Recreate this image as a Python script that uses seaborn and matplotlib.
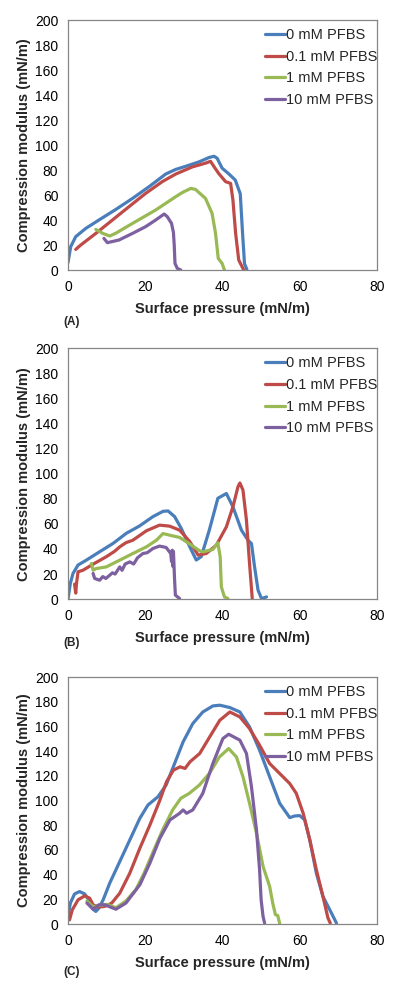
import numpy as np
import pandas as pd
import matplotlib
matplotlib.use("Agg")
import matplotlib.pyplot as plt
import seaborn as sns

# series names and colours (Excel 2007 defaults)
labels = ["0 mM PFBS", "0.1 mM PFBS", "1 mM PFBS", "10 mM PFBS"]
colors = ["#4A7EBB", "#BE4B48", "#98B954", "#7D60A0"]
panel_tags = ["(A)", "(B)", "(C)"]

# ---- panel A ----
A_blue_x = [0, 0.7, 2, 4.6, 8, 12.4, 16.7, 21, 25.3, 27.9, 30.5, 33.9, 36.5, 37.8, 38.6, 39.9, 41.6, 43.3, 44.6, 45.2, 45.7, 46.3]
A_blue_y = [6, 18.7, 26.7, 33.3, 40, 48.5, 57.3, 66.7, 76.8, 80.5, 83, 86.5, 90, 91, 89.5, 81.5, 77, 72, 61, 29, 5, 0.5]
A_red_x = [2, 3.3, 7.2, 11.5, 15.8, 20.1, 24.4, 27.9, 32.2, 35.6, 36.9, 37.8, 39, 40.8, 42.1, 42.7, 43.4, 44.2, 45.5]
A_red_y = [16.5, 20, 29.3, 40, 50.7, 61.3, 70.7, 76.8, 82.5, 85.5, 87, 82.7, 77.3, 70.7, 69.3, 56, 29.3, 8, 0]
A_green_x = [7.2, 9, 10.8, 12.4, 16.7, 22.7, 27.9, 29.6, 31.8, 33, 35.6, 37.3, 38.2, 38.9, 39.9, 40.5]
A_green_y = [32.5, 29.3, 27.2, 29.5, 37.3, 48, 58.7, 62, 65.3, 64.5, 57.3, 45.3, 29.3, 9.3, 5.3, 0]
A_purple_x = [9.3, 10.2, 13.2, 16.7, 20.1, 22.7, 24.9, 25.7, 26.8, 27.3, 27.5, 27.7, 28.3, 29.2]
A_purple_y = [25.3, 21.9, 24, 29.3, 34.7, 40, 44.8, 42.7, 37.3, 30, 20, 5.3, 1.3, 0]

# ---- panel B ----
B_blue_x = [0, 0.6, 1.3, 2.6, 4.8, 8.2, 11.7, 15.1, 18.5, 22, 24.6, 25.9, 27.6, 29.3, 31.5, 33.2, 34.5, 36.6, 38.8, 41, 42.7, 44.9, 46.6, 47.5, 48.3, 49.2, 50.1, 51.4]
B_blue_y = [0, 12.5, 20.5, 27.2, 31.2, 37.8, 44.5, 52.5, 58.3, 65.8, 70, 70.3, 65.8, 56.5, 41.9, 31.2, 33.9, 55.2, 80.4, 84.2, 73.6, 55, 47, 44.3, 25.8, 7.2, 0.5, 1.8]
B_red_x = [1.7, 2.0, 2.2, 2.6, 3.9, 6.5, 9.9, 12, 13.4, 15, 16.8, 20.3, 23.7, 26.3, 28.9, 31.5, 33.7, 35.8, 38.4, 41, 42.7, 44, 44.5, 45.3, 46.2, 47, 47.7]
B_red_y = [12, 4.8, 12.5, 21.8, 23.1, 27.9, 33.8, 38, 41.7, 45, 47, 54.5, 59, 58.2, 55, 46, 35.1, 36.4, 43, 57.6, 73.6, 89.5, 92.6, 86.9, 63, 28.4, 0.5]
B_green_x = [6.05, 6.5, 7.3, 9.9, 13.4, 16.8, 20.3, 22.9, 24.6, 26.3, 28.9, 31.5, 34.1, 34.9, 37.5, 38.8, 39.4, 39.7, 40.5, 41.4]
B_green_y = [28.4, 23.1, 24.4, 25.7, 31.1, 36.4, 41.7, 47, 52.3, 51, 49.2, 44, 38.5, 37.7, 39.6, 44.9, 33.7, 9.8, 1.8, 0.5]
B_purple_x = [6.5, 6.9, 8.2, 9.0, 9.8, 10.8, 11.5, 12.2, 13.4, 14.0, 14.8, 16, 17, 18, 19.4, 20.5, 22, 23.7, 25.4, 26.6, 26.8, 27.0, 27.2, 27.3, 27.6, 27.8, 28.9]
B_purple_y = [20.5, 16.5, 15.1, 18, 16.5, 19.1, 21, 20, 25.7, 23, 28, 29.7, 28, 33, 36.4, 37, 40.4, 42.3, 41.2, 36.4, 30, 39, 26, 38, 15.1, 3.2, 0.5]

# ---- panel C ----
C_blue_x = [0, 0.6, 1.7, 3, 4.3, 5.4, 6.5, 7.2, 8, 9.1, 10.8, 13.4, 16, 18.6, 20.7, 23.3, 25.4, 27.6, 29.8, 32.3, 34.9, 37.5, 39.3, 41.9, 44.5, 47, 49.6, 52.2, 54.8, 57.4, 58.7, 60, 61.3, 62.6, 64.3, 66, 68.2, 69.5]
C_blue_y = [6.1, 16.9, 24.4, 26.3, 24.4, 19.6, 12, 10.2, 12.9, 19.6, 33.1, 50.6, 68.1, 85.6, 96.4, 103.1, 112.5, 130, 147.5, 162.3, 171.7, 176.6, 177.2, 175.3, 171.7, 159.6, 140.8, 119.3, 97.8, 86.2, 87.5, 87.8, 84.3, 68.1, 41.2, 22.4, 8.9, 0.8]
C_red_x = [0.4, 1.1, 2.6, 4.3, 5.6, 6.5, 7.8, 9.5, 11.3, 13.4, 16, 18.6, 21.2, 23.8, 25.5, 27.3, 29, 30.3, 31.6, 34.1, 36.7, 39.3, 41.9, 44.5, 47, 49.6, 52.2, 54.8, 57.4, 59.1, 60.9, 62.6, 64.3, 66, 67.3, 67.9]
C_red_y = [3.4, 11.4, 19.6, 22.8, 21, 15.6, 13.7, 14.3, 16.9, 25, 41.2, 61.4, 80.2, 100.4, 115.2, 124.6, 127.3, 126, 131.4, 138.1, 151.6, 165, 171.7, 167.7, 158.3, 144.8, 130, 121.9, 113.8, 105.8, 89.6, 68.1, 43.9, 22.4, 4.9, 0.8]
C_green_x = [4.9, 6.5, 8, 10.2, 12.4, 15, 17.6, 19.7, 21.9, 24.5, 27.1, 29.2, 31.4, 34, 36.6, 39.2, 41.6, 43.6, 45.3, 47, 48.8, 50.5, 52.2, 53, 53.7, 54.3, 54.8]
C_green_y = [18.6, 14, 15.1, 15.9, 13.2, 18.6, 28, 41.2, 57.4, 76.2, 92.4, 101.8, 105.8, 112.5, 121.9, 135.3, 142.1, 135.3, 119.3, 97.8, 73.6, 46.6, 30.5, 17, 7.6, 6.9, 0.5]
C_purple_x = [4.9, 6.5, 8, 9.5, 12.4, 15, 18.6, 21.2, 23.8, 26.4, 28.9, 29.8, 30.7, 32.3, 34.9, 37.5, 40.1, 41.6, 44.5, 46.2, 47.5, 48.8, 49.6, 50, 50.5, 50.9]
C_purple_y = [17, 12, 15.6, 15.6, 12, 17, 31.8, 49.3, 69.5, 84.3, 89.7, 92.4, 89.7, 92.4, 105.8, 130, 150.2, 153.7, 148.9, 138.1, 111.2, 76.2, 43.9, 19.6, 6.1, 0.8]

panels = [
    [(A_blue_x, A_blue_y), (A_red_x, A_red_y), (A_green_x, A_green_y), (A_purple_x, A_purple_y)],
    [(B_blue_x, B_blue_y), (B_red_x, B_red_y), (B_green_x, B_green_y), (B_purple_x, B_purple_y)],
    [(C_blue_x, C_blue_y), (C_red_x, C_red_y), (C_green_x, C_green_y), (C_purple_x, C_purple_y)],
]

sns.set_style("white")
plt.rcParams["font.family"] = ["Liberation Sans", "DejaVu Sans"]

fig = plt.figure(figsize=(4.0, 9.92), dpi=100)
axes_pos = [
    [0.17, 0.7278, 0.7725, 0.252],
    [0.17, 0.396, 0.7725, 0.253],
    [0.17, 0.0685, 0.7725, 0.249],
]
tag_y = [1 - 322 / 992, 1 - 643 / 992, 1 - 972 / 992]
spine_col = "#868686"
palette = dict(zip(labels, colors))

for pos, series, tag, ty in zip(axes_pos, panels, panel_tags, tag_y):
    ax = fig.add_axes(pos)
    rows = []
    for lab, (xs, ys) in zip(labels, series):
        for xv, yv in zip(xs, ys):
            rows.append({"x": xv, "y": yv, "series": lab})
    df = pd.DataFrame(rows)
    sns.lineplot(data=df, x="x", y="y", hue="series", palette=palette,
                 hue_order=labels, sort=False, estimator=None,
                 linewidth=2.3, ax=ax)
    for ln in ax.get_lines():
        ln.set_solid_joinstyle("round")
        ln.set_solid_capstyle("round")
    ax.set_xlim(0, 80)
    ax.set_ylim(0, 200)
    ax.set_xticks(np.arange(0, 81, 20))
    ax.set_yticks(np.arange(0, 201, 20))
    for s in ax.spines.values():
        s.set_color(spine_col)
        s.set_linewidth(0.9)
    ax.tick_params(axis="both", direction="out", length=4, width=0.9,
                   color=spine_col, labelsize=10, pad=3, labelcolor="black")
    ax.set_xlabel("Surface pressure (mN/m)", fontsize=10.5, fontweight="bold", labelpad=6)
    ax.set_ylabel("Compression modulus (mN/m)", fontsize=10.5, fontweight="bold", labelpad=3)
    leg = ax.legend(loc="upper left", bbox_to_anchor=(0.637, 0.968), frameon=False,
                    fontsize=10.5, handlelength=1.35, handletextpad=0.1,
                    labelspacing=0.53, borderpad=0, borderaxespad=0)
    for line in leg.get_lines():
        line.set_linewidth(2.3)
    fig.text(63 / 400, ty, tag, fontsize=8.5, fontweight="bold", va="center", ha="left")

plt.savefig("out.png", dpi=100)
